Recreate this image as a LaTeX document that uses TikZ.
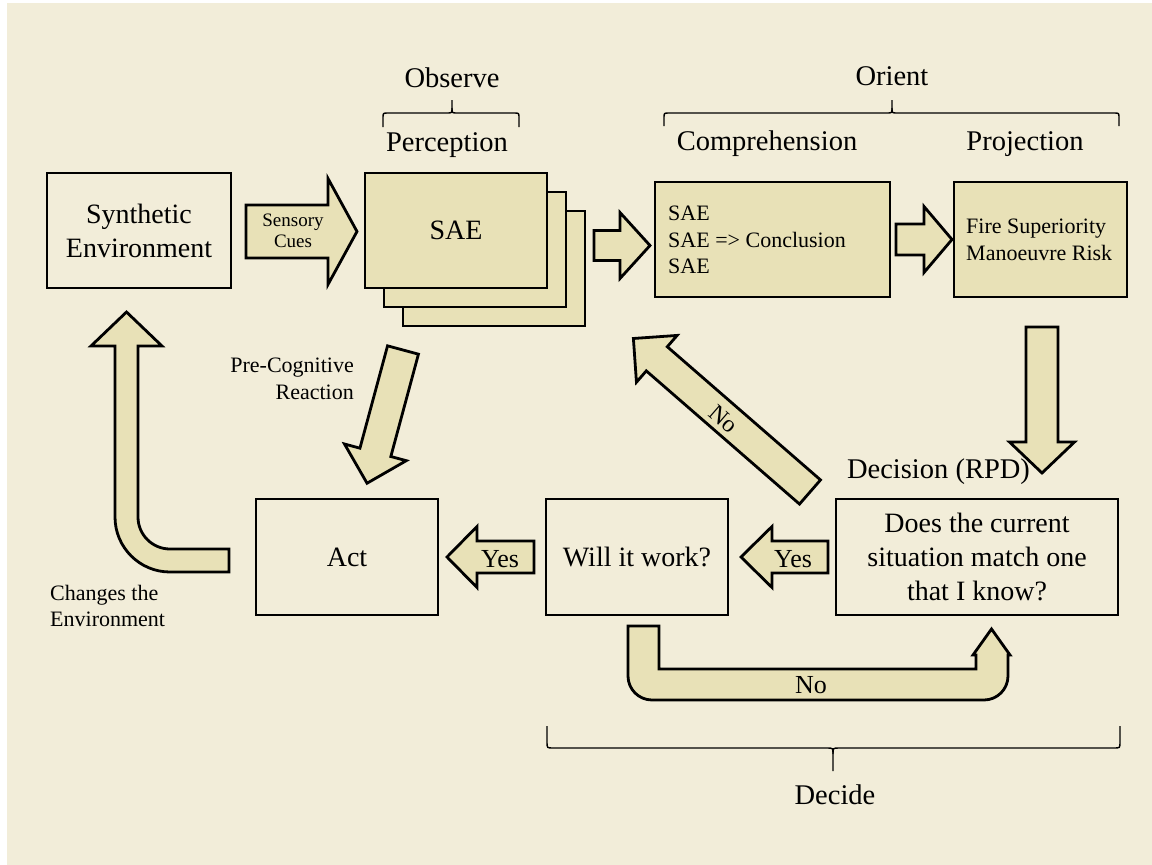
\documentclass[tikz,border=0pt]{standalone}
\usepackage{fontspec}
\setmainfont{Liberation Serif}
\definecolor{pagecream}{RGB}{242,237,217}
\definecolor{boxtan}{RGB}{232,225,183}
\tikzset{
  edgeline/.style={draw=black, line width=2.8pt, line join=miter},
  box/.style={edgeline, rectangle, inner sep=0pt, align=center,
    font=\fontsize{28}{34}\selectfont},
  tanbox/.style={box, fill=boxtan},
  arrowbody/.style={edgeline, fill=boxtan},
  heading/.style={font=\fontsize{28.5}{34}\selectfont, anchor=base, inner sep=0pt},
  small/.style={font=\fontsize{22}{26.5}\selectfont, inner sep=0pt},
  arrowtext/.style={font=\fontsize{26}{30}\selectfont, inner sep=0pt},
  bracket/.style={draw=black, line width=1.4pt},
}
% block arrow: tail centre x, y, direction, length, shaft half width, head half width, head length
\newcommand\blockarrow[7]{%
  \begin{scope}[shift={(#1,#2)}, rotate=#3]
    \draw[arrowbody] (0,-#5) -- ({#4-#7},-#5) -- ({#4-#7},-#6) -- (#4,0)
      -- ({#4-#7},#6) -- ({#4-#7},#5) -- (0,#5) -- cycle;
  \end{scope}}
\begin{document}
\begin{tikzpicture}[x=1pt,y=-1pt]
\useasboundingbox (0,0) rectangle (1152,865);
\fill[white] (0,0) rectangle (1152,865);
\fill[pagecream] (7,3) rectangle (1152,865);

% ---- top row: observe / orient ----
\node[box, minimum width=184pt, minimum height=115pt] (synth) at (139,230.5) {Synthetic\\Environment};

\node[tanbox, minimum width=182pt, minimum height=115pt] (sae3) at (494,268.5) {};
\node[tanbox, minimum width=182pt, minimum height=115pt] (sae2) at (475,249.5) {};
\node[tanbox, minimum width=182pt, minimum height=115pt] (sae) at (456,230.5) {SAE};

\node[tanbox, minimum width=235pt, minimum height=115pt] (comp) at (772.5,239.5) {};
\node[small, anchor=west, align=left] (comptext) at (668,240) {SAE\\SAE => Conclusion\\SAE};

\node[tanbox, minimum width=173pt, minimum height=115pt] (proj) at (1040.5,239.5) {};
\node[small, anchor=west, align=left] (projtext) at (966,240) {Fire Superiority\\Manoeuvre Risk};

% arrows between the top boxes
\blockarrow{246}{231.5}{0}{111}{26.5}{53}{29}
\node[font=\fontsize{19}{21}\selectfont, align=center, inner sep=0pt] (cues) at (293,231) {Sensory\\Cues};
\blockarrow{594}{245.5}{0}{56}{15}{33}{30}
\blockarrow{896}{239.5}{0}{56}{15.5}{33}{28}

% headings and brackets
\node[heading] (observe) at (452,87) {Observe};
\node[heading] (perception) at (447,151) {Perception};
\node[heading] (orient) at (892,85) {Orient};
\node[heading] (comphead) at (767,150) {Comprehension};
\node[heading] (projhead) at (1025,150) {Projection};
\node[heading] (decision) at (938.5,478) {Decision (RPD)};
\node[heading] (decide) at (835,804) {Decide};

\draw[bracket] (383,127) -- (383,118) .. controls (383,113) .. (388,113) -- (447,113)
  .. controls (452,113) .. (452,108) -- (452,100);
\draw[bracket] (519,127) -- (519,118) .. controls (519,113) .. (514,113) -- (457,113)
  .. controls (452,113) .. (452,108);
\draw[bracket] (664,126) -- (664,118) .. controls (664,113) .. (669,113) -- (887,113)
  .. controls (892,113) .. (892,108) -- (892,100);
\draw[bracket] (1119,126) -- (1119,118) .. controls (1119,113) .. (1114,113) -- (897,113)
  .. controls (892,113) .. (892,108);
\draw[bracket] (547,726) -- (547,742) .. controls (547,748) .. (553,748) -- (827,748)
  .. controls (833,748) .. (833,754) -- (833,771);
\draw[bracket] (1120,726) -- (1120,742) .. controls (1120,748) .. (1114,748) -- (839,748)
  .. controls (833,748) .. (833,754);

% ---- bottom row: decide / act ----
\node[box, minimum width=182pt, minimum height=116pt] (act) at (347,557) {Act};
\node[box, minimum width=182pt, minimum height=116pt] (will) at (637,557) {Will it work?};
\node[box, minimum width=282pt, minimum height=116pt] (dec) at (977,557) {Does the current\\situation match one\\that I know?};

% projection down to the decision
\blockarrow{1042}{327}{-90}{146}{16}{32.5}{31}
% no match: back to perception
\blockarrow{810}{492}{139}{234}{16}{31}{31}
\node[arrowtext, font=\fontsize{24}{28}\selectfont, rotate=-41] (nodiag) at (724,419) {No};
% pre-cognitive reaction
\blockarrow{403}{350}{-105.1}{138}{16}{32}{32}
\node[small, anchor=east, align=right] (precog) at (354,379) {Pre-Cognitive\\Reaction};
% yes arrows
\blockarrow{534}{557}{180}{87}{16}{30.5}{30}
\node[arrowtext, anchor=base] (yes1) at (500,567) {Yes};
\blockarrow{828}{557}{180}{87}{16}{30.5}{31}
\node[arrowtext, anchor=base] (yes2) at (793,567) {Yes};

% will it work? no: back to the decision
\draw[arrowbody] (628,626) -- (659,626) -- (659,669) -- (976,669) -- (976,655) -- (973,655)
  -- (991.5,629) -- (1010,655) -- (1008,655) -- (1008,676)
  arc[start angle=0, end angle=-90, radius=24pt] -- (652,700)
  arc[start angle=270, end angle=180, radius=24pt] -- cycle;
\node[arrowtext, anchor=base] (nobottom) at (811,693) {No};

% acting changes the environment
\draw[arrowbody] (229,549) -- (170,549) arc[start angle=270, end angle=180, radius=32pt]
  -- (138,346) -- (162,346) -- (126.5,312) -- (91,346) -- (115,346) -- (115,517)
  arc[start angle=180, end angle=270, radius=55pt] -- (229,572) -- cycle;
\node[small, anchor=west, align=left] (changes) at (50,606) {Changes the\\Environment};
\end{tikzpicture}
\end{document}
